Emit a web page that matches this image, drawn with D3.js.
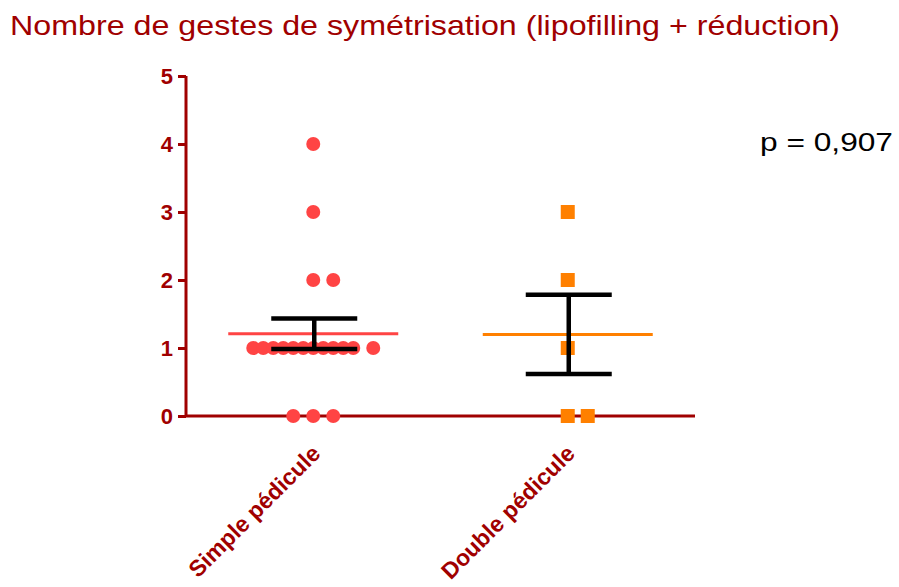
<!DOCTYPE html>
<html><head><meta charset="utf-8">
<script src="https://cdn.jsdelivr.net/npm/d3@7"></script>
<style>body{margin:0;background:#fff}svg{display:block}</style>
</head><body>
<svg id="c" width="899" height="587"></svg>
<script>
const title = "Nombre de gestes de symétrisation (lipofilling + réduction)";
const pText = "p = 0,907";
const categories = ["Simple pédicule", "Double pédicule"];
const simpleValues = [4, 3, 2, 2, 1,1,1,1,1,1,1,1,1,1,1,1, 0, 0, 0];
const simpleSlots  = [0, 0, 0, 2, -6,-5,-4,-3,-2,-1,0,1,2,3,4,6, -2, 0, 2];
const doubleValues = [3, 2, 1, 0, 0];
const doubleSlots  = [0, 0, 0, 0, 2];
const yTicks = [0, 1, 2, 3, 4, 5];

const groups = [
  {name: categories[0], values: simpleValues, slots: simpleSlots, color: "#ff4444", shape: "circle"},
  {name: categories[1], values: doubleValues, slots: doubleSlots, color: "#ff8000", shape: "square"}
];
groups.forEach(g => {
  g.mean = d3.mean(g.values);
  g.sem = d3.deviation(g.values) / Math.sqrt(g.values.length);
});

const axisColor = "#a00000";
const font = "Liberation Sans, Arial, sans-serif";
const svg = d3.select("#c");
const x = d3.scalePoint().domain(categories).range([186, 695]).padding(0.5);
const y = d3.scaleLinear().domain([0, 5]).range([416, 76]);
const slotW = 10;

svg.append("text").attr("x", 10).attr("y", 35).text(title)
  .attr("font-family", font).attr("font-size", 28)
  .attr("textLength", 830).attr("lengthAdjust", "spacingAndGlyphs")
  .attr("fill", axisColor);

svg.append("text").attr("x", 760).attr("y", 151).text(pText)
  .attr("font-family", font).attr("font-size", 25)
  .attr("textLength", 133).attr("lengthAdjust", "spacingAndGlyphs")
  .attr("fill", "#000");

// Y axis
const yAxis = svg.append("g").attr("transform", "translate(186,0)")
  .call(d3.axisLeft(y).tickValues(yTicks).tickFormat(d3.format("d")).tickSize(8).tickPadding(5));
yAxis.select(".domain").attr("stroke", axisColor).attr("stroke-width", 3)
  .attr("d", `M0,${y(5)}H0V${y(0)}`);
yAxis.selectAll(".tick line").attr("stroke", axisColor).attr("stroke-width", 3);
yAxis.selectAll(".tick text").attr("fill", axisColor)
  .attr("font-family", font).attr("font-size", 22).attr("font-weight", "bold");

// X axis
const xAxis = svg.append("g").attr("transform", `translate(0,${y(0)})`)
  .call(d3.axisBottom(x).tickSize(6).tickPadding(8));
xAxis.select(".domain").attr("stroke", axisColor).attr("stroke-width", 3)
  .attr("d", `M185,0H695`);
xAxis.selectAll(".tick line").attr("stroke", axisColor).attr("stroke-width", 3);
xAxis.selectAll(".tick text").attr("fill", axisColor)
  .attr("font-family", font).attr("font-size", 23).attr("font-weight", "bold")
  .attr("text-anchor", "end").attr("x", 0).attr("y", 0).attr("dy", 0)
  .attr("transform", "translate(8,39) rotate(-45)");

// Points
groups.forEach(g => {
  const cx = x(g.name);
  const pts = g.values.map((v, i) => ({v, s: g.slots[i]}));
  if (g.shape === "circle") {
    svg.append("g").selectAll("circle").data(pts).join("circle")
      .attr("cx", d => cx + d.s * slotW).attr("cy", d => y(d.v)).attr("r", 7)
      .attr("fill", g.color);
  } else {
    svg.append("g").selectAll("rect").data(pts).join("rect")
      .attr("x", d => cx + d.s * slotW - 7).attr("y", d => y(d.v) - 7)
      .attr("width", 14).attr("height", 14).attr("fill", g.color);
  }
});

// Mean lines and error bars
groups.forEach(g => {
  const cx = x(g.name);
  svg.append("line").attr("x1", cx - 85).attr("x2", cx + 85)
    .attr("y1", y(g.mean)).attr("y2", y(g.mean))
    .attr("stroke", g.color).attr("stroke-width", 3);
  const eg = svg.append("g").attr("stroke", "#000").attr("stroke-width", 4.5);
  eg.append("line").attr("x1", cx + 1).attr("x2", cx + 1)
    .attr("y1", y(g.mean + g.sem)).attr("y2", y(g.mean - g.sem));
  [g.mean + g.sem, g.mean - g.sem].forEach(v => {
    eg.append("line").attr("x1", cx - 42).attr("x2", cx + 44)
      .attr("y1", y(v)).attr("y2", y(v));
  });
});
</script>
</body></html>
